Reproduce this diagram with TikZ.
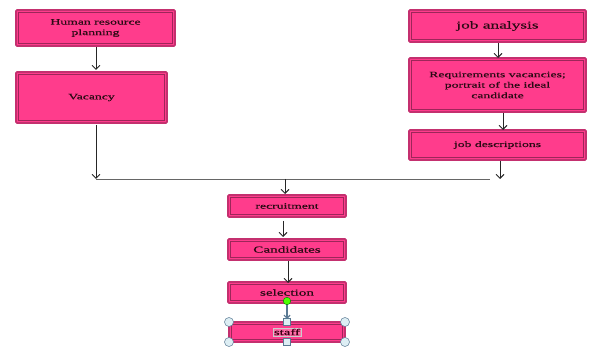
\documentclass[tikz,border=0pt]{standalone}
\usepackage{fontspec}
\setmainfont{Liberation Serif}
\newfontfamily\wide[FakeStretch=1.65,FakeBold=0.3]{Liberation Serif}
\usetikzlibrary{arrows.meta,calc}
\definecolor{boxfill}{HTML}{FF3C8C}
\definecolor{boxline}{HTML}{C4306F}
\definecolor{boxtext}{HTML}{2A0A14}
\definecolor{handle}{HTML}{DDEEF4}
\definecolor{handleline}{HTML}{5A7A94}
\tikzset{
  inner/.style={draw=boxline!80!black, line width=0.5pt},
  arr/.style={draw=black!85, line width=0.9pt, -{Straight Barb[length=4pt,width=8pt]}},
  hline/.style={draw=black!60, line width=0.9pt},
  hcirc/.style={draw=handleline, fill=handle, line width=0.5pt, circle, minimum size=9pt, inner sep=0pt},
  hsq/.style={draw=handleline, fill=handle, line width=0.5pt, rectangle, minimum size=7pt, inner sep=0pt},
}
\newcommand{\pbox}[6]{%
  \fill[boxfill] (#2,#3) rectangle (#4,#5);
  \draw[draw=boxline, line width=1.6pt, rounded corners=1pt] (#2,#3) rectangle (#4,#5);
  \draw[inner] ($(#2,#3)+(2.5,2.5)$) rectangle ($(#4,#5)+(-2.5,-2.5)$);
  \node[text=boxtext, font=\wide\fontsize{8.3}{10.5}\selectfont, align=center, inner sep=0pt] (#1) at ($(#2,#3)!0.5!(#4,#5)$) {#6};
}
\begin{document}
\begin{tikzpicture}[x=1pt,y=-1pt]
\useasboundingbox[fill=white] (0,0) rectangle (592,347);
% left column
\pbox{hrp}{16}{10}{175}{46}{Human resource\\planning}
\pbox{vac}{16}{72}{167}{123}{Vacancy}
% right column
\pbox{ja}{409}{10}{586}{42}{\fontsize{10.5}{12}\selectfont job analysis}
\pbox{req}{409}{58}{586}{112}{Requirements vacancies;\\portrait of the ideal\\candidate}
\pbox{jd}{409}{130}{586}{160}{job descriptions}
% centre column
\pbox{rec}{228}{195}{346}{217}{recruitment}
\pbox{cand}{228}{239}{346}{260}{\fontsize{9.2}{10}\selectfont Candidates}
\pbox{sel}{228}{282}{346}{303}{\fontsize{9.2}{10}\selectfont selection}
\pbox{staff}{229}{322}{345}{342}{}
\node[draw=white!60!gray, fill=boxfill!75!white, inner sep=1pt, text=black!70!purple, font=\wide\fontsize{9}{10}\selectfont] (stafftxt) at (staff) {staff};
% junction coordinates
\coordinate (jl) at (96,179);
\coordinate (jr) at (500,179);
\coordinate (jm) at (285,179);
\coordinate (jre) at (490,179);
% connectors
\draw[arr] (96,47) -- (96,70);
\draw[arr] (96,125) -- (jl);
\draw[arr] (498,43) -- (498,58);
\draw[arr] (503,113) -- (503,130);
\draw[arr] (500,161) -- (jr);
\draw[hline] (jl) -- (jre);
\draw[arr] (jm) -- (285,194);
\draw[arr] (283,221) -- (283,237);
\draw[arr] (288,261) -- (288,283);
% selection handles on staff box
\coordinate (gh) at (287,301);
\draw[draw=handleline, line width=1.2pt, -{Straight Barb[length=3pt,width=6pt]}] (gh) -- (287,319);
\node[circle, fill=green!70!yellow, draw=green!50!black, line width=0.4pt, minimum size=7.5pt, inner sep=0pt] (green) at (gh) {};
\node[hcirc] (h1) at (229,322) {};
\node[hcirc] (h2) at (345,322) {};
\node[hcirc] (h3) at (229,342) {};
\node[hcirc] (h4) at (345,342) {};
\node[hsq] (h5) at (287,322) {};
\node[hsq] (h6) at (287,342) {};
\end{tikzpicture}
\end{document}
